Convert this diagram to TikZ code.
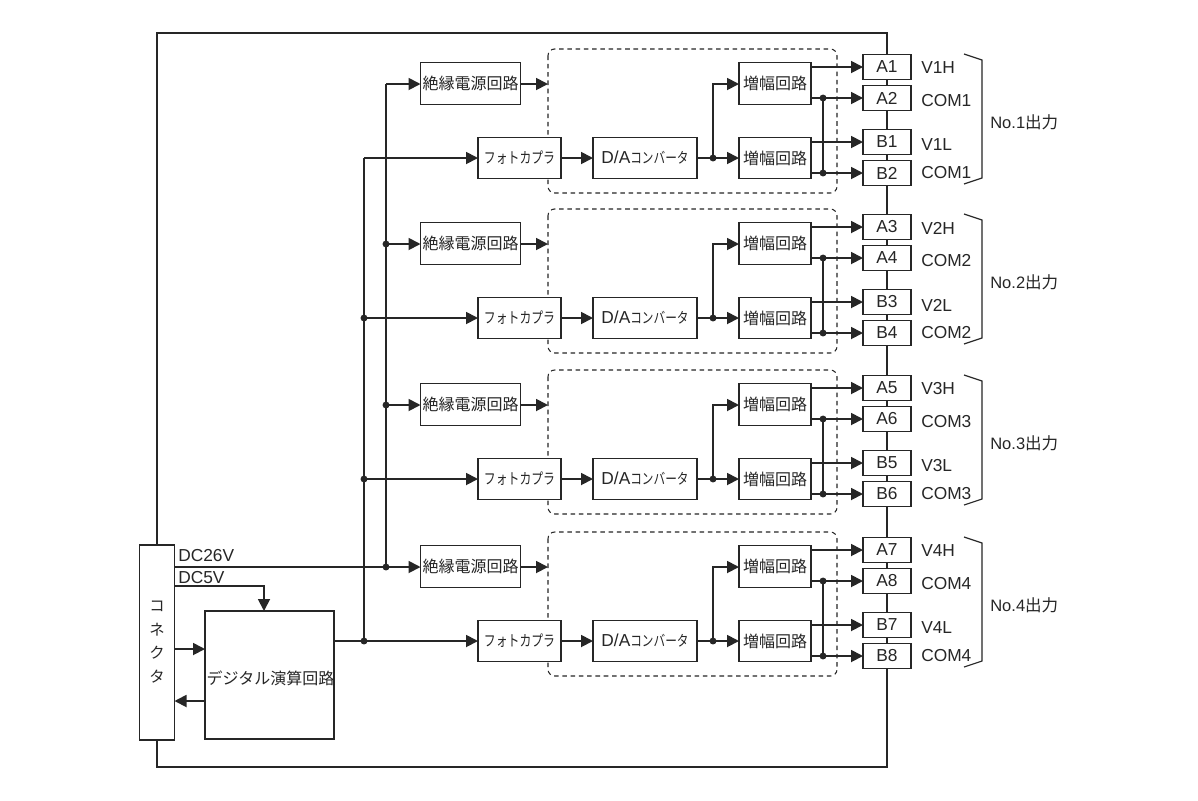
\documentclass[tikz,border=0pt]{standalone}
\usepackage{fontspec}
\setmainfont{Liberation Sans}
\newfontfamily\cjk{Noto Sans CJK JP}
\newfontfamily\cjknarrow[FakeStretch=0.78]{Noto Sans CJK JP}
\usetikzlibrary{arrows.meta}
\definecolor{ink}{HTML}{262626}
\tikzset{
  x=0.75pt,y=-0.75pt,
  wire/.style={draw=ink,line width=1.35pt},
  arrow/.style={wire,-{Triangle[length=9pt,width=9pt]}},
  framepath/.style={draw=ink,line width=1.5pt},
  blockbox/.style 2 args={draw=ink,line width=1pt,fill=white,inner sep=0pt,outer sep=0pt,text=ink,minimum width=#1*0.75pt,minimum height=#2*0.75pt,align=center},
  dot/.style={circle,fill=ink,inner sep=0pt,minimum size=5.2pt},
  label/.style={inner sep=0pt,text=ink,anchor=west},
  dashbox/.style={draw=ink,line width=0.8pt,dash pattern=on 3.4pt off 2.8pt,rounded corners=5pt},
  brace/.style={draw=ink,line width=0.85pt},
  jp/.style={font=\cjk\fontsize{12}{14}\selectfont},
  jpsmall/.style={font=\cjknarrow\fontsize{11.4}{13}\selectfont},
  jpda/.style={font=\fontsize{13}{14}\selectfont},
  term/.style={font=\fontsize{13}{15}\selectfont},
}
\begin{document}
\begin{tikzpicture}
\useasboundingbox (0,0) rectangle (1198,800);
\fill[white] (0,0) rectangle (1198,800);

% left side blocks
\node[blockbox={34.5}{195}] (conn) at (157,642.5) {};
\node[text=ink,align=center,inner sep=0pt,font=\cjk\fontsize{11.5}{17.6}\selectfont] (conntext) at (157,642) {コ\\ネ\\ク\\タ};
\node[blockbox={129}{128}] (dig) at (269.5,675) {};
\node[jp,inner sep=0pt,text=ink] (digtext) at (270.5,678) {デジタル演算回路};

% outer frame
\coordinate (frameTR) at (887,33);
\coordinate (frameBR) at (887,767);
\draw[framepath] (conn.north) |- (frameTR) -- (frameBR) -| (conn.south);

\foreach \g/\dy/\ta/\tb/\tc/\td/\lv/\lw/\lc/\ln in {
  1/0/A1/A2/B1/B2/V1H/V1L/COM1/No.1,
  2/160/A3/A4/B3/B4/V2H/V2L/COM2/No.2,
  3/321/A5/A6/B5/B6/V3H/V3L/COM3/No.3,
  4/483/A7/A8/B7/B8/V4H/V4L/COM4/No.4}{
\begin{scope}[shift={(0,\dy)}]
  \draw[dashbox] (548,49) rectangle (837,193);
  \node[blockbox={100}{42},jp] (iso\g) at (470.5,83.5) {絶縁電源回路};
  \node[blockbox={83}{41},jpsmall] (pc\g) at (519.5,158) {フォトカプラ};
  \node[blockbox={104}{41},jpda] (da\g) at (645,158) {D/A{\cjknarrow\fontsize{11.2}{13}\selectfont コンバータ}};
  \node[blockbox={72}{42},jp] (ampa\g) at (775,83.5) {増幅回路};
  \node[blockbox={72}{41},jp] (ampb\g) at (775,158) {増幅回路};
  \node[blockbox={48}{24.5},term] (ta\g) at (887,67) {\ta};
  \node[blockbox={48}{24.5},term] (tb\g) at (887,98) {\tb};
  \node[blockbox={48}{24.5},term] (tc\g) at (887,142) {\tc};
  \node[blockbox={48}{24.5},term] (td\g) at (887,173) {\td};
  \node[label,term] at (921,68) {\lv};
  \node[label,term] at (921,101) {\lc};
  \node[label,term] at (921,145) {\lw};
  \node[label,term] at (921,173) {\lc};
  \node[label,font=\fontsize{12.4}{14}\selectfont] at (990,122) {\ln{\cjk 出力}};
  \coordinate (isoout\g) at (548,84);
  \coordinate (brA\g) at (964,54);
  \coordinate (brB\g) at (982,60);
  \coordinate (brC\g) at (982,178);
  \coordinate (brD\g) at (964,184);
  \draw[brace] (brA\g) -- (brB\g) -- (brC\g) -- (brD\g);
  \draw[arrow] (iso\g.east |- isoout\g) -- (isoout\g);
  \draw[arrow] (pc\g.east) -- (da\g.west);
  \node[dot] (jda\g) at (713,158) {};
  \draw[wire] (da\g.east) -- (jda\g.center);
  \draw[arrow] (jda\g.center) -- (ampb\g.west);
  \coordinate (jup\g) at (713,84);
  \draw[arrow] (jda\g.center) -- (jup\g) -- (jup\g -| ampa\g.west);
  \draw[arrow] (ampa\g.east |- ta\g.west) -- (ta\g.west);
  \draw[arrow] (ampa\g.east |- tb\g.west) -- (tb\g.west);
  \draw[arrow] (ampb\g.east |- tc\g.west) -- (tc\g.west);
  \draw[arrow] (ampb\g.east |- td\g.west) -- (td\g.west);
  \node[dot] (jcoma\g) at (823,98) {};
  \node[dot] (jcomb\g) at (823,173) {};
  \draw[wire] (jcoma\g.center) -- (jcomb\g.center);
  \coordinate (biso\g) at (386,84);
  \coordinate (bpc\g) at (364,158);
  \draw[arrow] (biso\g) -- (biso\g -| iso\g.west);
  \draw[arrow] (bpc\g) -- (pc\g.west);
\end{scope}
}

% buses
\draw[wire] (biso1) -- (biso4);
\draw[wire] (bpc1) -- (bpc4);
\node[dot] at (biso2) {};
\node[dot] at (biso3) {};
\node[dot] at (biso4) {};
\node[dot] at (bpc2) {};
\node[dot] at (bpc3) {};
\node[dot] at (bpc4) {};

% connector wiring
\draw[wire] (conn.east |- biso4) -- (biso4);
\draw[wire] (dig.east |- bpc4) -- (bpc4);
\coordinate (dc5) at (174.5,586);
\coordinate (dc5drop) at (264,586);
\draw[arrow] (dc5) -- (dc5drop) -- (dc5drop |- dig.north);
\coordinate (cin) at (174.5,649);
\coordinate (cout) at (174.5,701);
\draw[arrow] (cin) -- (dig.west |- cin);
\draw[arrow] (dig.west |- cout) -- (cout);
\node[label,term] at (178,556) {DC26V};
\node[label,term] at (178,578) {DC5V};
\end{tikzpicture}
\end{document}
